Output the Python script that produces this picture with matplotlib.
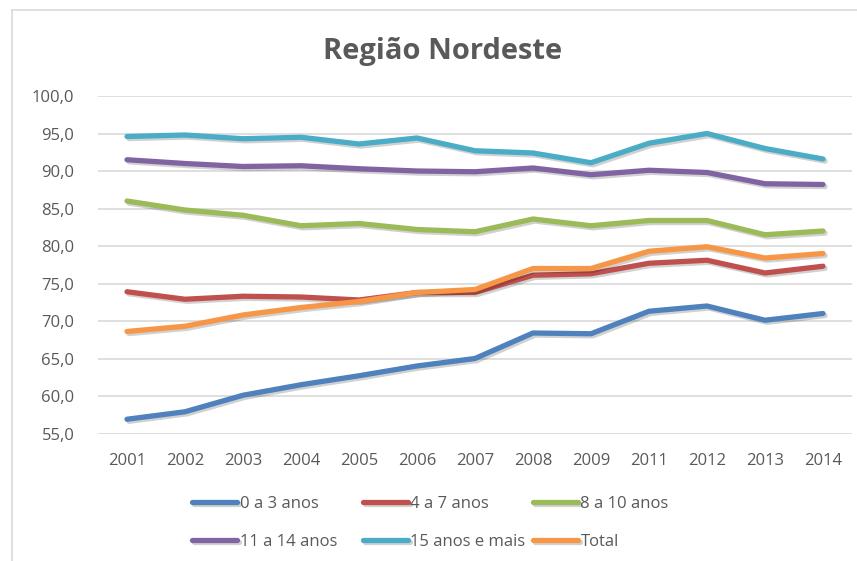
import matplotlib
matplotlib.use("Agg")
import matplotlib.pyplot as plt
import matplotlib.patheffects as pe
from matplotlib.lines import Line2D

# data
anos = ["2001", "2002", "2003", "2004", "2005", "2006", "2007",
        "2008", "2009", "2011", "2012", "2013", "2014"]
idade_0_3 = [56.9, 57.9, 60.1, 61.5, 62.7, 64.0, 65.0, 68.4, 68.3, 71.3, 72.0, 70.1, 71.0]
idade_4_7 = [73.9, 72.9, 73.3, 73.2, 72.8, 73.8, 73.8, 76.1, 76.3, 77.7, 78.1, 76.4, 77.3]
idade_8_10 = [86.0, 84.8, 84.1, 82.7, 83.0, 82.2, 81.9, 83.6, 82.7, 83.4, 83.4, 81.5, 82.0]
idade_11_14 = [91.5, 91.0, 90.6, 90.7, 90.3, 90.0, 89.9, 90.4, 89.5, 90.1, 89.8, 88.3, 88.2]
idade_15_mais = [94.6, 94.8, 94.3, 94.5, 93.6, 94.4, 92.7, 92.4, 91.1, 93.7, 95.0, 93.0, 91.6]
total = [68.6, 69.3, 70.8, 71.8, 72.6, 73.8, 74.2, 77.0, 77.0, 79.3, 79.9, 78.4, 79.0]

series = ["0 a 3 anos", "4 a 7 anos", "8 a 10 anos",
          "11 a 14 anos", "15 anos e mais", "Total"]
valores = [idade_0_3, idade_4_7, idade_8_10, idade_11_14, idade_15_mais, total]
cores = ["#4F81BD", "#C0504D", "#9BBB59", "#8064A2", "#4BACC6", "#F79646"]

plt.rcParams["font.family"] = ["Open Sans", "DejaVu Sans"]
txt = "#595959"
W, H = 857, 561

fig = plt.figure(figsize=(W / 100, H / 100), dpi=100)
ax = fig.add_axes([98 / W, 1 - 433.5 / H, (852 - 98) / W, (433.5 - 96) / H])

x = list(range(len(anos)))
linhas = []
for nome, vals, c in zip(series, valores, cores):
    ln, = ax.plot(x, vals, color=c, lw=3.8, solid_capstyle="round",
                  solid_joinstyle="round", label=nome,
                  path_effects=[pe.SimpleLineShadow(offset=(1.5, -1.5), shadow_color="k", alpha=0.18),
                                pe.Normal()])
    linhas.append(ln)

ax.set_xlim(-0.5, len(anos) - 0.5)
ax.set_ylim(55, 100)
ax.set_yticks([55, 60, 65, 70, 75, 80, 85, 90, 95, 100])
ax.set_yticklabels([f"{v:.1f}".replace(".", ",") for v in ax.get_yticks()])
ax.set_xticks(x)
ax.set_xticklabels(anos)
ax.tick_params(length=0, labelsize=12, labelcolor=txt)
ax.tick_params(axis="y", pad=17)
ax.tick_params(axis="x", pad=14)
ax.grid(axis="y", color="#D9D9D9", lw=1.2)
ax.set_axisbelow(True)
for key, spine in ax.spines.items():
    spine.set_visible(False)

fig.text(443 / W, 1 - 59 / H, "Região Nordeste", ha="center", va="baseline",
         fontsize=21, fontweight="bold", color=txt)

# legend: one small legend per column so the columns sit at equal spacing
col_x = [192, 363, 533]
for j in range(3):
    idx = [j, j + 3]
    fig.legend([linhas[i] for i in idx], [series[i] for i in idx],
               loc="upper left", bbox_to_anchor=(col_x[j] / W, 1 - 496 / H),
               frameon=False, fontsize=12, labelcolor=txt, handlelength=2.7,
               handletextpad=0.15, labelspacing=1.3, borderpad=0, borderaxespad=0)

# chart border (left and top edges visible)
fig.add_artist(Line2D([12 / W, 12 / W], [0, 1 - 10 / H], color="#D9D9D9", lw=1.2))
fig.add_artist(Line2D([12 / W, 1], [1 - 10 / H, 1 - 10 / H], color="#D9D9D9", lw=1.2))

fig.savefig("out.png", dpi=100)
